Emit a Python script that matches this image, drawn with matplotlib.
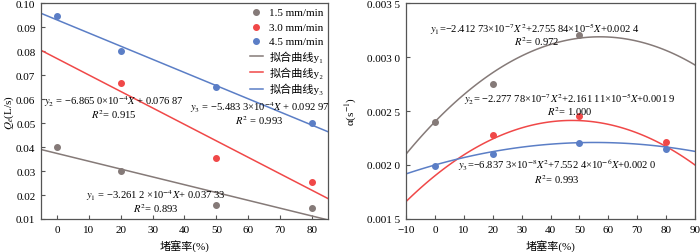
import numpy as np
import matplotlib
matplotlib.use("Agg")
import matplotlib.pyplot as plt
from matplotlib.ticker import FixedLocator

plt.rcParams['font.family'] = ['Liberation Serif', 'Noto Sans CJK SC', 'DejaVu Sans']
plt.rcParams['mathtext.fontset'] = 'stix'
plt.rcParams['axes.unicode_minus'] = False

# ---- data: seepage rate Qe vs clogging ratio ----
q_x1 = [0, 20, 50, 80]
q_y1 = [0.0400, 0.0298, 0.0160, 0.0147]
q_x2 = [20, 50, 80]
q_y2 = [0.0668, 0.0353, 0.0256]
q_x3 = [0, 20, 50, 80]
q_y3 = [0.0947, 0.0802, 0.0649, 0.0500]
# linear fit coefficients (slope, intercept) as printed on the chart
q_fit1 = [-3.2612e-4, 0.03733]
q_fit2 = [-6.8650e-4, 0.07687]
q_fit3 = [-5.4833e-4, 0.09297]

# ---- data: alpha vs clogging ratio ----
a_x1 = [0, 20, 50]
a_y1 = [0.00240, 0.00275, 0.00320]
a_x2 = [20, 50, 80]
a_y2 = [0.00228, 0.00245, 0.00221]
a_x3 = [0, 20, 50, 80]
a_y3 = [0.00199, 0.00210, 0.00220, 0.00215]
# quadratic fit coefficients (a, b, c) as printed on the chart
a_fit1 = [-2.41273e-7, 2.75584e-5, 0.0024]
a_fit2 = [-2.27778e-7, 2.16111e-5, 0.0019]
a_fit3 = [-6.8373e-8, 7.5524e-6, 0.0020]

speed_labels = ['1.5 mm/min', '3.0 mm/min', '4.5 mm/min']
fit_labels = ['拟合曲线y₁', '拟合曲线y₂', '拟合曲线y₃']

colors = ['#857a78', '#f04848', '#5b7ec6']
spine_col = '#555555'
fs = 8
afs = 7.6  # annotation font size

fig = plt.figure(figsize=(7.0, 2.53), dpi=100)
ax1 = fig.add_axes([41/700, 33/253, 287/700, 216/253])
ax2 = fig.add_axes([406/700, 33/253, 289/700, 216/253])


def style(ax):
    for s in ax.spines.values():
        s.set_color(spine_col)
        s.set_linewidth(0.9)
    ax.tick_params(direction='in', length=3, width=0.8, color=spine_col,
                   labelsize=fs, pad=4, top=False, right=False)


# left panel
xs = np.linspace(-5, 85, 50)
for xd, yd, c, lab in zip([q_x1, q_x2, q_x3], [q_y1, q_y2, q_y3], colors, speed_labels):
    ax1.scatter(xd, yd, s=16, color=c, label=lab, zorder=3)
for fit, c, lab in zip([q_fit1, q_fit2, q_fit3], colors, fit_labels):
    ax1.plot(xs, np.polyval(fit, xs), color=c, lw=1.1, label=lab)
ax1.set_xlim(-5, 85)
ax1.set_ylim(0.01, 0.10)
ax1.xaxis.set_major_locator(FixedLocator(range(0, 81, 10)))
ax1.set_yticks(np.arange(0.01, 0.101, 0.01))
ax1.set_yticklabels(['%.2f' % v for v in np.arange(0.01, 0.101, 0.01)])
ax1.set_xlabel('堵塞率(%)', fontsize=fs, labelpad=4)
ax1.set_ylabel('$Q_e$(L/s)', fontsize=fs, labelpad=0)
style(ax1)
leg = ax1.legend(loc='upper right', frameon=False, fontsize=fs, handlelength=1.1,
                 handletextpad=0.6, labelspacing=0.42, borderaxespad=0.1,
                 borderpad=0.3, scatterpoints=1)

ax1.text(17.8, 0.0594, '$y_2$ = −6.865 0×10$^{-4}$$X$ + 0.076 87', fontsize=afs,
         ha='center', va='center')
ax1.text(17.8, 0.0541, '$R^2$= 0.915', fontsize=afs, ha='center', va='center')
ax1.text(63.5, 0.0569, '$y_3$ = −5.483 3×10$^{-4}$$X$ + 0.092 97', fontsize=afs,
         ha='center', va='center')
ax1.text(63.5, 0.0516, '$R^2$ = 0.993', fontsize=afs, ha='center', va='center')
ax1.text(31, 0.0202, '$y_1$ = −3.261 2 ×10$^{-4}$$X$+ 0.037 33', fontsize=afs,
         ha='center', va='center')
ax1.text(31, 0.0149, '$R^2$= 0.893', fontsize=afs, ha='center', va='center')

# right panel
xs2 = np.linspace(-10, 90, 100)
for xd, yd, c in zip([a_x1, a_x2, a_x3], [a_y1, a_y2, a_y3], colors):
    ax2.scatter(xd, yd, s=16, color=c, zorder=3)
for fit, c in zip([a_fit1, a_fit2, a_fit3], colors):
    ax2.plot(xs2, np.polyval(fit, xs2), color=c, lw=1.1)
ax2.set_xlim(-10, 90)
ax2.set_ylim(0.0015, 0.0035)
ax2.set_xticks(range(-10, 91, 10))
ax2.set_xticklabels([('−10' if v < 0 else str(v)) for v in range(-10, 91, 10)])
ax2.set_yticks([0.0015, 0.0020, 0.0025, 0.0030, 0.0035])
ax2.set_yticklabels(['0.001 5', '0.002 0', '0.002 5', '0.003 0', '0.003 5'])
ax2.set_xlabel('堵塞率(%)', fontsize=fs, labelpad=4)
ax2.set_ylabel('α(s$^{-1}$)', fontsize=fs, labelpad=6)
style(ax2)

ax2.text(34.6, 0.003270, '$y_1$=−2.412 73×10$^{-7}$$X^2$+2.755 84×10$^{-5}$$X$+0.002 4',
         fontsize=afs, ha='center', va='center')
ax2.text(35.3, 0.003150, '$R^2$= 0.972', fontsize=afs, ha='center', va='center')
ax2.text(46.7, 0.002620, '$y_2$= −2.277 78×10$^{-7}$$X^2$+2.161 11×10$^{-5}$$X$+0.001 9',
         fontsize=afs, ha='center', va='center')
ax2.text(46.7, 0.002500, '$R^2$= 1.000', fontsize=afs, ha='center', va='center')
ax2.text(42.3, 0.002005, '$y_3$=−6.837 3×10$^{-8}$$X^2$+7.552 4×10$^{-6}$$X$+0.002 0',
         fontsize=afs, ha='center', va='center')
ax2.text(42.3, 0.001875, '$R^2$= 0.993', fontsize=afs, ha='center', va='center')

fig.savefig('out.png', dpi=100)
